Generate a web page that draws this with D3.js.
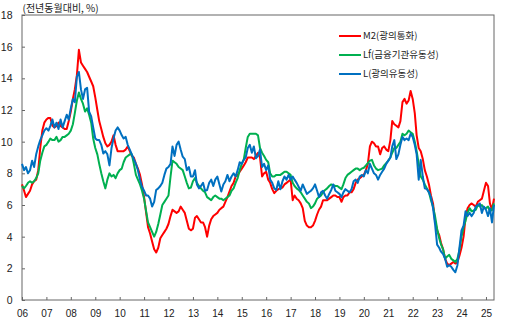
<!DOCTYPE html>
<html><head><meta charset="utf-8">
<script src="https://cdn.jsdelivr.net/npm/d3@7"></script>
<style>body{margin:0;background:#fff} svg{display:block}</style>
</head><body>
<svg id="c" width="512" height="325"></svg>
<script>
// Monthly year-on-year growth (%), Jan 2006 – May 2025
const startDate = new Date(2006, 0, 1);
const endDate = new Date(2025, 4, 1);

const m2 = [
  7.3, 6.9, 6.5, 6.7, 6.9, 7.3, 7.5, 7.6, 8.2, 9.6, 10.7, 11.2,
  11.4, 11.5, 11.5, 11.0, 10.9, 11.0, 11.2, 11.0, 10.9, 10.8, 10.8, 11.3,
  11.9, 12.7, 13.3, 14.2, 15.8, 15.0, 14.8, 14.6, 14.4, 14.1, 13.8, 13.5,
  12.8, 12.0, 11.3, 10.8, 10.3, 9.9, 9.7, 9.8, 10.0, 10.4, 9.8, 9.4,
  9.4, 9.4, 9.4, 9.5, 9.7, 9.4, 9.1, 9.0, 8.6, 8.3, 7.9, 7.3,
  6.5, 5.5, 4.6, 4.2, 3.7, 3.2, 3.0, 3.3, 3.9, 4.1, 4.3, 4.5,
  4.8, 5.3, 5.7, 5.6, 5.5, 5.6, 5.9, 5.7, 5.5, 5.0, 4.5, 4.4,
  4.5, 5.2, 5.3, 5.1, 4.9, 4.9, 4.6, 4.0, 4.7, 5.1, 5.3, 5.4,
  5.5, 5.7, 5.8, 5.9, 6.2, 6.5, 6.85, 7.2, 7.4, 7.8, 7.9, 8.1,
  8.3, 8.5, 8.7, 9.0, 9.0, 9.0, 8.9, 9.1, 9.3, 9.0, 7.8, 8.0,
  8.1, 7.6, 7.4, 7.0, 6.75, 6.9, 7.0, 7.05, 7.1, 7.3, 7.4, 7.5,
  7.6, 6.3, 6.6, 6.4, 6.3, 6.1, 5.8, 5.0, 4.7, 4.6, 4.6, 4.7,
  5.0, 5.4, 5.7, 5.9, 6.3, 6.3, 6.3, 6.4, 6.5, 6.6, 6.6, 6.5,
  6.5, 6.2, 6.5, 6.6, 6.6, 6.8, 6.8, 7.0, 7.4, 7.6, 7.7, 7.8,
  7.9, 8.2, 8.6, 9.7, 10.0, 9.9, 9.7, 9.7, 9.2, 9.6, 9.7, 9.5,
  9.4, 10.1, 11.3, 11.1, 11.0, 10.9, 11.3, 12.5, 12.7, 12.4, 12.6, 13.2,
  12.7, 11.8, 10.4, 9.6, 9.4, 8.9, 8.2, 7.8, 7.3, 6.6, 6.1, 5.0,
  4.4, 4.1, 3.6, 3.2, 2.6, 2.3, 2.2, 2.3, 2.4, 2.3, 2.4, 2.8,
  3.3, 4.0, 5.2, 5.8, 6.0, 6.1, 6.0, 5.9, 6.2, 6.3, 6.4, 6.9,
  7.4, 7.2, 6.1, 5.7, 6.4
];

const lf = [
  7.2, 7.05, 7.2, 7.4, 7.5, 7.4, 7.5, 7.7, 8.0, 8.8, 9.3, 9.7,
  9.8, 10.0, 10.2, 10.1, 10.1, 10.3, 10.0, 10.1, 10.3, 10.3, 10.4, 10.5,
  10.7, 11.1, 11.8, 12.6, 13.1, 12.7, 12.4, 11.9, 12.1, 11.7, 11.2, 10.2,
  9.6, 9.2, 8.6, 8.0, 7.5, 7.05, 7.6, 8.0, 7.8, 7.9, 7.7, 8.0,
  8.2, 8.3, 8.7, 9.0, 9.1, 9.2, 9.2, 8.6, 7.9, 7.6, 7.3, 6.9,
  6.4, 5.6, 4.9, 4.6, 4.3, 4.0, 4.3, 4.8, 5.4, 6.0, 6.2, 6.4,
  6.6, 7.8, 8.8, 8.7, 8.6, 8.4, 8.3, 8.2, 7.8, 7.4, 7.05, 7.1,
  7.5, 7.7, 7.4, 7.2, 7.05, 6.9, 6.8, 6.5, 6.4, 6.3, 6.5, 6.6,
  6.5, 6.4, 6.4, 6.3, 6.4, 6.5, 6.6, 6.9, 7.05, 7.4, 7.7, 8.2,
  8.6, 8.9, 9.6, 10.3, 10.5, 10.5, 10.5, 10.5, 10.4, 9.6, 9.3, 9.1,
  8.85, 8.7, 8.0, 7.8, 7.8, 7.9, 7.9, 7.9, 8.0, 8.1, 8.1, 8.0,
  7.9, 7.4, 7.2, 7.05, 6.95, 6.8, 6.6, 6.4, 6.2, 6.1, 5.8, 5.9,
  6.1, 6.4, 6.5, 6.6, 6.8, 6.95, 7.05, 7.2, 7.3, 7.25, 7.2, 7.2,
  7.1, 7.0, 7.3, 7.7, 7.9, 8.0, 8.1, 8.2, 8.3, 8.3, 8.2, 8.3,
  8.35, 8.5, 8.65, 8.8, 8.85, 8.5, 8.3, 8.2, 8.25, 8.3, 8.5, 8.65,
  8.8, 9.0, 9.3, 9.6, 9.6, 9.8, 10.0, 10.5, 10.4, 10.5, 10.7, 10.6,
  10.5, 10.0, 9.4, 8.6, 7.8, 7.6, 7.3, 7.05, 6.8, 6.3, 5.9, 5.3,
  4.5, 3.9, 3.5, 3.2, 2.6, 2.75, 2.85, 2.6, 2.5, 2.4, 2.6, 3.15,
  4.0, 4.6, 5.0, 5.5, 5.8, 5.6, 5.65, 5.7, 6.0, 5.9, 6.0, 5.8,
  5.8, 5.9, 5.6, 5.7, 6.1
];

const l = [
  8.6, 8.2, 8.4, 8.0, 8.2, 8.8, 8.4, 9.2, 9.7, 10.1, 10.4, 10.7,
  10.85, 10.7, 11.0, 11.4, 10.9, 11.2, 10.8, 11.4, 10.9, 11.3, 11.7, 11.4,
  12.1, 12.7, 12.5, 14.1, 14.4, 13.3, 12.7, 13.3, 13.4, 11.9, 11.6, 10.9,
  10.2, 10.1, 10.1, 9.8, 9.25, 9.4, 9.2, 8.5, 9.6, 10.2, 10.7, 10.9,
  10.7, 10.4, 10.2, 10.3, 9.8, 9.5, 9.2, 8.9, 8.6, 8.2, 7.6, 7.15,
  6.9, 6.6, 6.6, 6.4, 5.9, 6.2, 6.95, 7.05, 7.2, 7.4, 7.9, 8.3,
  8.4, 8.6, 9.7, 9.1, 9.8, 10.0, 9.5, 9.05, 8.9, 8.2, 8.4, 7.8,
  7.8, 8.2, 7.3, 7.05, 7.2, 7.4, 6.9, 6.95, 7.4, 7.6, 7.2, 7.6,
  7.8, 7.3, 6.85, 7.3, 7.5, 7.9, 7.5, 7.8, 8.0, 7.8, 8.2, 8.7,
  8.6, 8.85, 9.0, 9.6, 9.8, 9.3, 9.7, 8.95, 9.1, 9.5, 8.4, 8.6,
  8.2, 8.5, 7.6, 7.4, 7.05, 6.95, 7.5, 7.0, 7.5, 7.8, 7.6, 7.9,
  7.6, 7.8, 7.6, 7.4, 7.15, 6.9, 7.3, 7.0, 6.7, 6.8, 6.9, 7.05,
  7.3, 6.9, 6.5, 6.8, 6.9, 6.6, 6.4, 6.7, 6.95, 7.3, 6.9, 6.8,
  6.7, 6.5, 6.8, 7.0, 6.9, 6.8, 7.0, 7.5, 7.6, 7.4, 7.8, 7.9,
  7.8, 8.2, 8.0, 8.6, 8.3, 8.0, 7.9, 7.6, 7.9, 8.1, 8.3, 8.6,
  8.8, 9.0, 9.7, 10.1, 8.9, 9.2, 9.8, 10.3, 10.1, 10.2, 10.1, 10.5,
  10.3, 9.8, 9.2, 7.6, 8.85, 7.8, 7.05, 7.0, 6.8, 6.5, 5.8, 4.8,
  3.5, 3.3, 3.05, 2.9, 2.6, 2.1, 2.2, 2.1, 1.9, 1.75, 2.2, 3.3,
  4.4, 4.7, 5.6, 5.3, 5.5, 5.3, 5.5, 5.9, 6.0, 6.1, 5.5, 5.9,
  5.7, 5.3, 5.8, 4.9, 6.0
];

const seriesNames = ["M2(광의통화)", "Lf(금융기관유동성)", "L(광의유동성)"];
const seriesColors = ["#ff0000", "#00b050", "#0070c0"];
const yTicks = [0, 2, 4, 6, 8, 10, 12, 14, 16, 18];
const xYears = d3.range(2006, 2026);
const unitLabel = "(전년동월대비, %)";

const svg = d3.select("#c");
const mLeft = 22, mRight = 494, mTop = 15, mBottom = 300;

const x = d3.scaleTime().domain([startDate, endDate]).range([mLeft, mRight]);
const y = d3.scaleLinear().domain([0, 18]).range([mBottom, mTop]);

const numFont = "'Liberation Sans', Arial, sans-serif";
const korFont = "'Noto Sans CJK KR', 'Noto Sans', sans-serif";
const axisColor = "#666";

// frame
svg.append("rect")
  .attr("x", mLeft).attr("y", mTop)
  .attr("width", mRight - mLeft).attr("height", mBottom - mTop)
  .attr("fill", "none").attr("stroke", axisColor).attr("stroke-width", 1);

// y axis
const gy = svg.append("g").attr("transform", `translate(${mLeft},0)`)
  .call(d3.axisLeft(y).tickValues(yTicks).tickSize(-3).tickPadding(9.5));
gy.select(".domain").remove();
gy.selectAll(".tick line").attr("stroke", axisColor);
gy.selectAll(".tick text").attr("font-family", numFont).attr("font-size", 10.5).attr("fill", "#222");

// x axis
const gx = svg.append("g").attr("transform", `translate(0,${mBottom})`)
  .call(d3.axisBottom(x)
    .tickValues(xYears.map(yr => new Date(yr, 0, 1)))
    .tickSize(-3).tickPadding(10)
    .tickFormat(d3.timeFormat("%y")));
gx.select(".domain").remove();
gx.selectAll(".tick line").attr("stroke", axisColor);
gx.selectAll(".tick text").attr("font-family", numFont).attr("font-size", 10).attr("fill", "#222");

// unit label
svg.append("text").attr("x", 22.5).attr("y", 12)
  .attr("font-family", korFont).attr("font-size", 10).attr("fill", "#222")
  .text(unitLabel);

// lines
const series = [m2, lf, l];
const line = d3.line()
  .x((d, i) => x(d3.timeMonth.offset(startDate, i)))
  .y(d => y(d));
series.forEach((s, k) => {
  svg.append("path").datum(s)
    .attr("d", line)
    .attr("fill", "none")
    .attr("stroke", seriesColors[k])
    .attr("stroke-width", 2)
    .attr("stroke-linejoin", "round");
});

// legend
const legY = [36, 55, 74];
seriesNames.forEach((name, k) => {
  svg.append("line")
    .attr("x1", 339).attr("x2", 361)
    .attr("y1", legY[k]).attr("y2", legY[k])
    .attr("stroke", seriesColors[k]).attr("stroke-width", 2);
  svg.append("text").attr("x", 363).attr("y", legY[k])
    .attr("dy", "0.35em")
    .attr("font-family", korFont).attr("font-size", 9.5).attr("fill", "#222")
    .text(name);
});
</script>
</body></html>
